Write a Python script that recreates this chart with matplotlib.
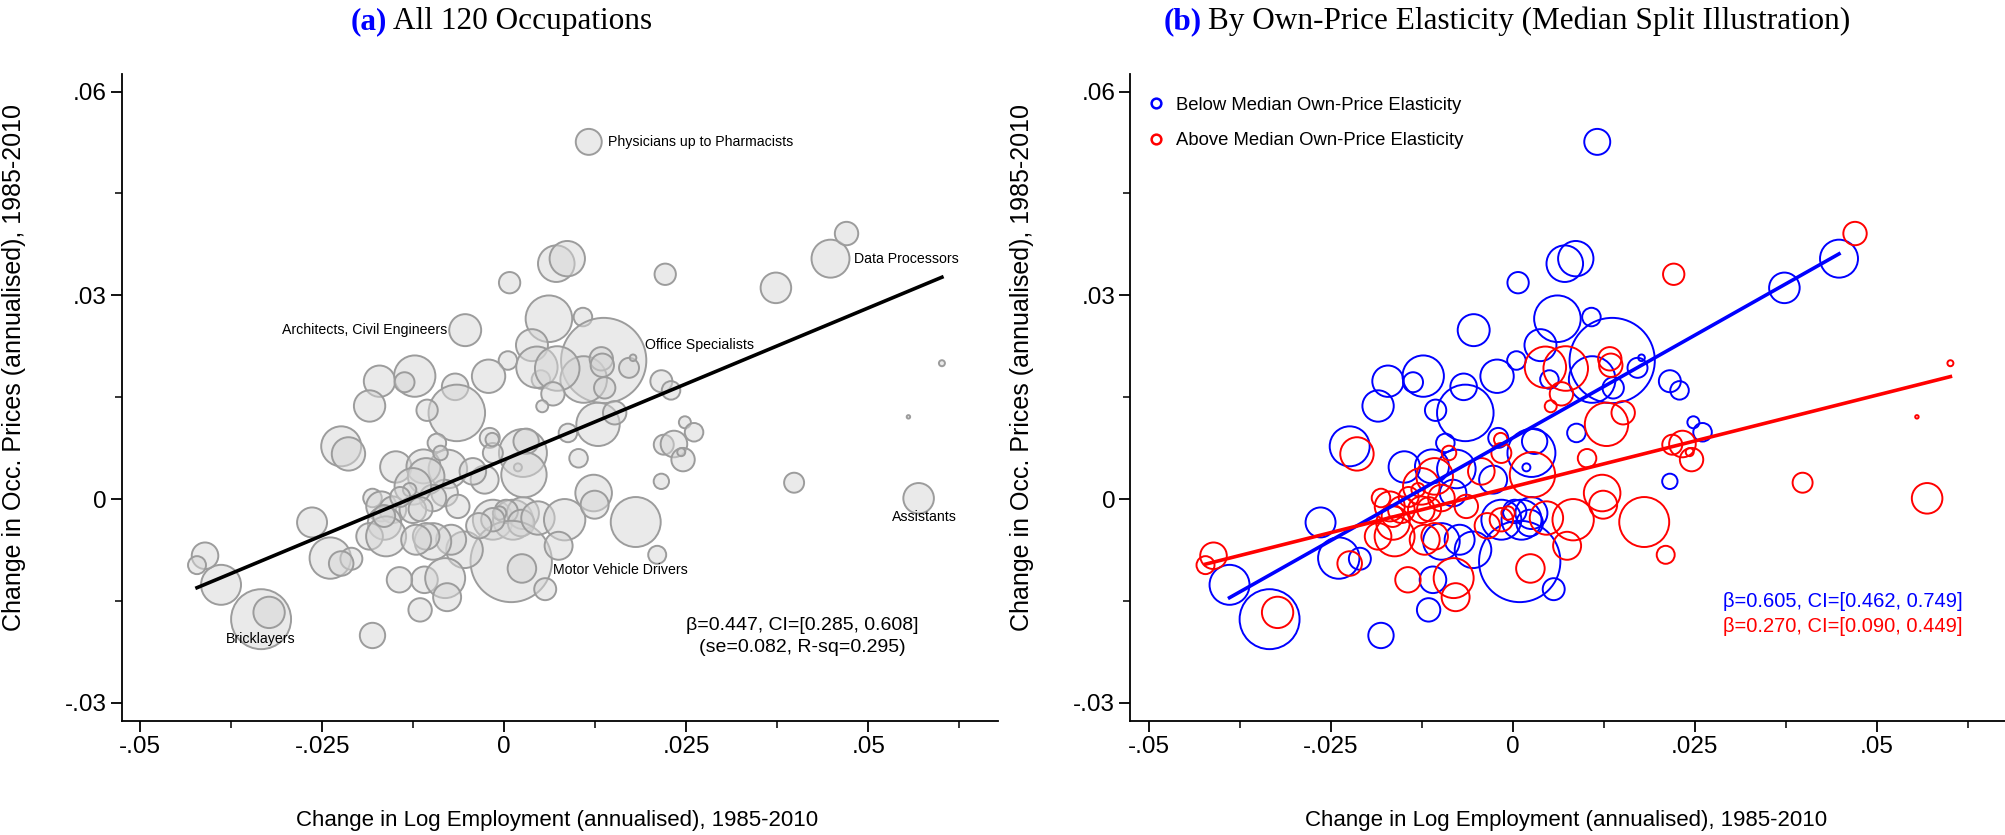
import numpy as np
import matplotlib
matplotlib.use("Agg")
import matplotlib.pyplot as plt
from matplotlib.lines import Line2D

plt.rcParams['font.family'] = ['Liberation Sans', 'DejaVu Sans']

# ---- data ----
# group 0 = below median own-price elasticity, 1 = above
blue_x = [0.0116, 0.0448, 0.0373, 0.00714, 0.00865, 0.00073, 0.00613, 0.0108, -0.00537, 0.01365,
          0.0038, 0.0109, 0.01379, 0.01713, 0.01768, 0.02157, 0.0229, 0.00503, 0.0005, -0.00216,
          -0.00675, -0.00652, -0.0106, -0.0123, -0.01714, -0.0137, -0.0185, 0.00874, 0.0248, 0.02606,
          0.02157, 0.00256, 0.00187, 0.003, -0.002, -0.00926, -0.00775, -0.0027, -0.0082, -0.00157,
          0.0012, 0.00256, 0.00026, 0.00232, 0.00095, 0.00562, -0.00546, -0.0073, -0.0098, -0.01096,
          -0.01156, -0.0181, -0.0224, -0.0149, -0.0264, -0.0239, -0.0210, -0.0389, -0.0334, -0.0111]
blue_y = [0.0526, 0.0354, 0.0311, 0.03466, 0.0354, 0.03186, 0.02655, 0.0268, 0.02487, 0.0204,
          0.02266, 0.0176, 0.01637, 0.01932, 0.0208, 0.01735, 0.0160, 0.0176, 0.0204, 0.01808,
          0.01652, 0.01268, 0.01307, 0.0181, 0.01735, 0.0172, 0.0137, 0.00973, 0.0113, 0.00983,
          0.0026, 0.00678, 0.00466, 0.0085, 0.0090, 0.00826, 0.00442, 0.00285, 0.00088, -0.00305,
          -0.00305, -0.00207, -0.00183, -0.00354, -0.0092, -0.01328, -0.00748, -0.0060, -0.00625, -0.0119,
          -0.01633, -0.0201, 0.00776, 0.00472, -0.00345, -0.0087, -0.0088, -0.01264, -0.0177, 0.0048]
blue_w = [1.69, 3.61, 2.34, 3.35, 3.13, 1.14, 5.43, 0.86, 2.56, 18.2,
          2.56, 5.43, 1.14, 1.00, 0.11, 1.21, 0.86, 0.86, 0.86, 2.79,
          1.77, 8.00, 1.14, 4.28, 2.46, 1.00, 2.46, 0.86, 0.36, 0.86,
          0.59, 5.76, 0.16, 1.61, 1.00, 0.86, 3.72, 1.96, 1.77, 4.00,
          4.00, 2.56, 1.37, 1.77, 16.56, 1.21, 3.35, 2.25, 3.35, 1.77,
          1.37, 1.61, 4.00, 2.46, 2.25, 4.28, 1.21, 4.00, 9.00, 2.89]

red_x = [0.0470, 0.0601, 0.0555, 0.0398, 0.0569, 0.0221, 0.00448, 0.00727, 0.01332, 0.01346,
         0.00668, 0.00521, 0.01287, 0.01516, 0.0219, 0.0233, 0.02455, 0.0243, 0.0102, 0.0027,
         -0.00157, -0.00166, -0.00876, -0.00432, -0.01073, -0.0098, -0.00638, -0.00065, -0.00157, -0.0035,
         0.00462, 0.00829, 0.00746, 0.01227, 0.01241, 0.01805, 0.0210, 0.00242, -0.01073, -0.00812,
         -0.00785, -0.0214, -0.0411, -0.0422, -0.0224, -0.0323, -0.0144, -0.0181, -0.0169, -0.0153,
         -0.01645, -0.0185, -0.01256, -0.01256, -0.01623, -0.0121, -0.0130, -0.0143, -0.0165, -0.0115]
red_y = [0.0391, 0.0200, 0.0121, 0.0024, 0.0001, 0.0331, 0.01941, 0.01922, 0.02065, 0.0197,
         0.01549, 0.01366, 0.0110, 0.0127, 0.0080, 0.0081, 0.0058, 0.0069, 0.0060, 0.00358,
         0.00678, 0.00875, 0.00678, 0.00407, 0.00333, 0.00015, -0.00109, -0.00207, -0.00305, -0.00394,
         -0.0028, -0.00305, -0.00689, 0.00088, -0.00084, -0.00339, -0.00822, -0.01023, -0.0055, -0.01165,
         -0.01446, 0.00664, -0.00836, -0.00974, -0.0095, -0.0167, -0.0119, 0.00015, -0.00109, -0.00158,
         -0.00354, -0.0055, 0.00186, -0.00158, -0.0055, -0.0060, 0.00137, 0.0003, -0.0025, -0.0015]
red_w = [1.37, 0.09, 0.03, 1.00, 2.34, 1.14, 4.28, 4.97, 1.37, 1.37,
         1.37, 0.36, 4.71, 1.37, 1.00, 1.77, 1.37, 0.16, 0.86, 5.15,
         1.00, 0.45, 0.53, 1.77, 3.35, 1.77, 1.37, 0.45, 1.37, 1.61,
         2.79, 4.28, 1.96, 3.35, 1.96, 6.25, 0.81, 2.04, 1.77, 4.00,
         1.96, 2.79, 1.77, 0.81, 1.51, 2.46, 1.61, 0.86, 2.25, 1.77,
         2.79, 1.77, 3.35, 1.77, 4.00, 2.25, 0.45, 1.00, 1.21, 1.44]

# weighted fits reported in the figure
fit_all = (0.447, 0.0058)
fit_blue = (0.605, 0.0090)
fit_red = (0.270, 0.0018)

labels = {  # name: (group, index, offset in points, ha)
    'Physicians up to Pharmacists': (0, 0, (14, 0), 'left'),
    'Data Processors': (0, 1, (17, 0), 'left'),
    'Architects, Civil Engineers': (0, 8, (-13, 0), 'right'),
    'Office Specialists': (0, 9, (30, 11), 'left'),
    'Motor Vehicle Drivers': (0, 44, (30, -6.5), 'left'),
    'Bricklayers': (0, 58, (0, -14), 'center'),
    'Assistants': (1, 4, (4, -13.5), 'center'),
}

bx, by, bw = np.array(blue_x), np.array(blue_y), np.array(blue_w)
rx, ry, rw = np.array(red_x), np.array(red_y), np.array(red_w)
all_x = np.concatenate([bx, rx])
all_y = np.concatenate([by, ry])
all_w = np.concatenate([bw, rw])

SCALE = 207.0  # marker area per unit weight

fig = plt.figure(figsize=(20.05, 8.35), dpi=100)
ax_a = fig.add_axes([0.06085, 0.1365, 0.4369, 0.7749])
ax_b = fig.add_axes([0.56384, 0.1365, 0.4369, 0.7749])

xlab = 'Change in Log Employment (annualised), 1985-2010'
ylab = 'Change in Occ. Prices (annualised), 1985-2010'

for ax in (ax_a, ax_b):
    ax.set_xlim(-0.0525, 0.0678)
    ax.set_ylim(-0.0327, 0.0626)
    ax.spines['top'].set_visible(False)
    ax.spines['right'].set_visible(False)
    ax.spines['left'].set_linewidth(1.3)
    ax.spines['bottom'].set_linewidth(1.3)
    ax.set_xticks([-0.05, -0.025, 0, 0.025, 0.05])
    ax.set_xticklabels(['-.05', '-.025', '0', '.025', '.05'])
    ax.set_xticks([-0.0375, -0.0125, 0.0125, 0.0375, 0.0625], minor=True)
    ax.set_yticks([-0.03, 0, 0.03, 0.06])
    ax.set_yticklabels(['-.03', '0', '.03', '.06'])
    ax.set_yticks([-0.015, 0.015, 0.045], minor=True)
    ax.tick_params(which='major', length=8, width=1.3, labelsize=17.5, pad=3)
    ax.tick_params(which='minor', length=5, width=1.1)
    ax.set_xlabel(xlab, fontsize=16)
    ax.xaxis.set_label_coords(0.497, -0.137)
    ax.set_ylabel(ylab, fontsize=18)
    ax.yaxis.set_label_coords(-0.11, 0.546)

# ---- panel (a) ----
ax_a.scatter(all_x, all_y, s=all_w * SCALE, facecolors=(0.84, 0.84, 0.84, 0.5),
             edgecolors='#9c9c9c', linewidths=1.4, zorder=2)
xs = np.array([all_x.min(), all_x.max()])
ax_a.plot(xs, fit_all[1] + fit_all[0] * xs, color='black', lw=2.6, zorder=3)
for name, (g, i, off, ha) in labels.items():
    px, py = (bx[i], by[i]) if g == 0 else (rx[i], ry[i])
    ax_a.annotate(name, (px, py), xytext=off, textcoords='offset points',
                  ha=ha, va='center', fontsize=10.2, zorder=4)
ax_a.text(0.0409, -0.0187, 'β=0.447, CI=[0.285, 0.608]', ha='center', va='center', fontsize=14)
ax_a.text(0.0409, -0.0218, '(se=0.082, R-sq=0.295)', ha='center', va='center', fontsize=14)

# ---- panel (b) ----
ax_b.scatter(bx, by, s=bw * SCALE, facecolors='none', edgecolors='#0000ff', linewidths=1.4, zorder=2)
ax_b.scatter(rx, ry, s=rw * SCALE, facecolors='none', edgecolors='#ff0000', linewidths=1.4, zorder=2)
xs = np.array([bx.min(), bx.max()])
ax_b.plot(xs, fit_blue[1] + fit_blue[0] * xs, color='#0000ff', lw=2.6, zorder=3)
xs = np.array([rx.min(), rx.max()])
ax_b.plot(xs, fit_red[1] + fit_red[0] * xs, color='#ff0000', lw=2.6, zorder=3)
ax_b.text(0.0618, -0.0151, 'β=0.605, CI=[0.462, 0.749]', ha='right', va='center',
          fontsize=14.5, color='#0000ff')
ax_b.text(0.0618, -0.0188, 'β=0.270, CI=[0.090, 0.449]', ha='right', va='center',
          fontsize=14.5, color='#ff0000')
handles = [Line2D([], [], ls='none', marker='o', markersize=7, mfc='none', mec='#0000ff', mew=1.8),
           Line2D([], [], ls='none', marker='o', markersize=7, mfc='none', mec='#ff0000', mew=1.8)]
ax_b.legend(handles, ['Below Median Own-Price Elasticity', 'Above Median Own-Price Elasticity'],
            loc='upper left', bbox_to_anchor=(0.018, 0.965), frameon=False, fontsize=13.3,
            handlelength=1.0, handletextpad=0.6, borderpad=0, borderaxespad=0, labelspacing=1.0)

# ---- titles ----
tfont = ['Liberation Serif', 'DejaVu Serif']
for x0, rest, tag in [(393, 'All 120 Occupations', '(a)'),
                      (1208, 'By Own-Price Elasticity (Median Split Illustration)', '(b)')]:
    fig.text(x0 / 2005, 0.974, rest, ha='left', va='center', fontsize=22.5, family=tfont)
    fig.text(x0 / 2005 - 6 / 2005, 0.974, tag, ha='right', va='center', fontsize=22.5,
             family=tfont, color='#0000ff', weight='bold')

fig.savefig('out.png', dpi=100)
